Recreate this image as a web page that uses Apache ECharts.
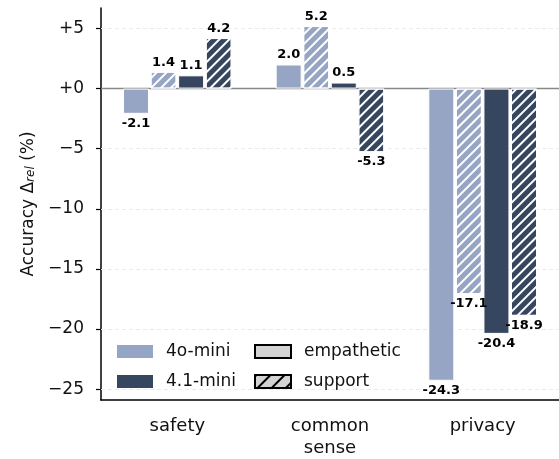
<!DOCTYPE html>
<html><head><meta charset="utf-8">
<script src="https://cdn.jsdelivr.net/npm/echarts@6/dist/echarts.min.js"></script>
<style>html,body{margin:0;padding:0;background:#fff}#c{width:559px;height:459px}</style>
</head><body><div id="c"></div>
<script>
const categories = ['safety', 'common\nsense', 'privacy'];
const mini4oEmpathetic = [-2.1, 2.0, -24.3];
const mini4oSupport = [1.4, 5.2, -17.1];
const mini41Empathetic = [1.1, 0.5, -20.4];
const mini41Support = [4.2, -5.3, -18.9];
const yTicks = [5, 0, -5, -10, -15, -20, -25];
const gridValues = [5, -5, -10, -15, -20, -25];

const LIGHT = '#97A5C4', DARK = '#36465F';
const hatchWhite = { symbol: 'rect', color: '#ffffff', dashArrayX: [1, 0], dashArrayY: [2, 5], rotation: -Math.PI / 4, symbolSize: 1 };
const hatchBlack = { symbol: 'rect', color: '#000000', dashArrayX: [1, 0], dashArrayY: [2, 8], rotation: -Math.PI / 4, symbolSize: 1 };
const FONT = 'DejaVu Sans';

function barSeries(name, data, color, decal, extra) {
  const style = { color: color, borderColor: '#ffffff', borderWidth: 1 };
  if (decal) style.decal = decal;
  const s = {
    name: name, type: 'bar', data: data, barWidth: 26, barGap: '6%', barCategoryGap: '29%',
    itemStyle: style,
    label: { show: true, position: 'outside', distance: 3, fontFamily: FONT, fontWeight: 'bold', fontSize: 13, color: '#000',
      formatter: p => p.value.toFixed(1) },
    z: 3
  };
  return Object.assign(s, extra || {});
}
function legendSeries(name, style) {
  return { name: name, type: 'bar', xAxisIndex: 1, data: [], itemStyle: style };
}

const chart = echarts.init(document.getElementById('c'), null, { renderer: 'canvas' });
chart.setOption({
  animation: false,
  grid: { left: 101, width: 460, top: 8, height: 394, containLabel: false },
  legend: [
    { data: ['4o-mini', '4.1-mini'], orient: 'vertical', left: 112, top: 338, icon: 'rect', itemWidth: 36, itemHeight: 13, itemGap: 13,
      textStyle: { fontFamily: FONT, fontSize: 17, color: '#111', padding: [0, 0, 0, 8] }, selectedMode: false },
    { data: ['empathetic', 'support'], orient: 'vertical', left: 249, top: 338, icon: 'rect', itemWidth: 36, itemHeight: 13, itemGap: 13,
      textStyle: { fontFamily: FONT, fontSize: 17, color: '#111', padding: [0, 0, 0, 8] }, selectedMode: false }
  ],
  xAxis: [{
    type: 'category', data: categories,
    axisLine: { onZero: false, lineStyle: { color: '#000', width: 1.5 } },
    axisTick: { alignWithLabel: true, length: 5, lineStyle: { color: '#000', width: 1.2 } },
    axisLabel: { fontFamily: FONT, fontSize: 18, color: '#111', margin: 15, lineHeight: 22 },
    splitLine: { show: false }
  }, {
    type: 'category', data: categories, show: false
  }],
  yAxis: {
    type: 'value', min: -25.9, max: 6.7,
    name: '{a|Accuracy Δ}{s|rel}{a| (%)}', nameLocation: 'middle', nameGap: 60, nameRotate: 90,
    nameTextStyle: { rich: {
      a: { fontFamily: FONT, fontSize: 17, color: '#111' },
      s: { fontFamily: FONT, fontSize: 12, fontStyle: 'italic', color: '#111', verticalAlign: 'bottom', padding: [6, 0, 0, 0] }
    } },
    axisLine: { show: true, lineStyle: { color: '#000', width: 1.5 } },
    axisTick: { show: true, length: 5, lineStyle: { color: '#000', width: 1.2 }, customValues: yTicks },
    axisLabel: { fontFamily: FONT, fontSize: 17, color: '#111', margin: 17, customValues: yTicks,
      formatter: v => (v >= 0 ? '+' + v : '\u2212' + Math.abs(v)) },
    splitLine: { show: false }
  },
  series: [
    barSeries('a', mini4oEmpathetic, LIGHT, null, {
      markLine: {
        silent: true, symbol: 'none', label: { show: false }, z: 1,
        data: gridValues.map(v => ({ yAxis: v, lineStyle: { color: '#ebebeb', type: [4, 3], width: 1 } }))
          .concat([{ yAxis: 0, lineStyle: { color: '#888888', type: 'solid', width: 1.3 } }])
      }
    }),
    barSeries('b', mini4oSupport, LIGHT, hatchWhite),
    barSeries('c', mini41Empathetic, DARK, null),
    barSeries('d', mini41Support, DARK, hatchWhite),
    legendSeries('4o-mini', { color: LIGHT }),
    legendSeries('4.1-mini', { color: DARK }),
    legendSeries('empathetic', { color: '#d3d3d3', borderColor: '#000', borderWidth: 1 }),
    legendSeries('support', { color: '#d3d3d3', borderColor: '#000', borderWidth: 1, decal: hatchBlack })
  ]
});
</script></body></html>
